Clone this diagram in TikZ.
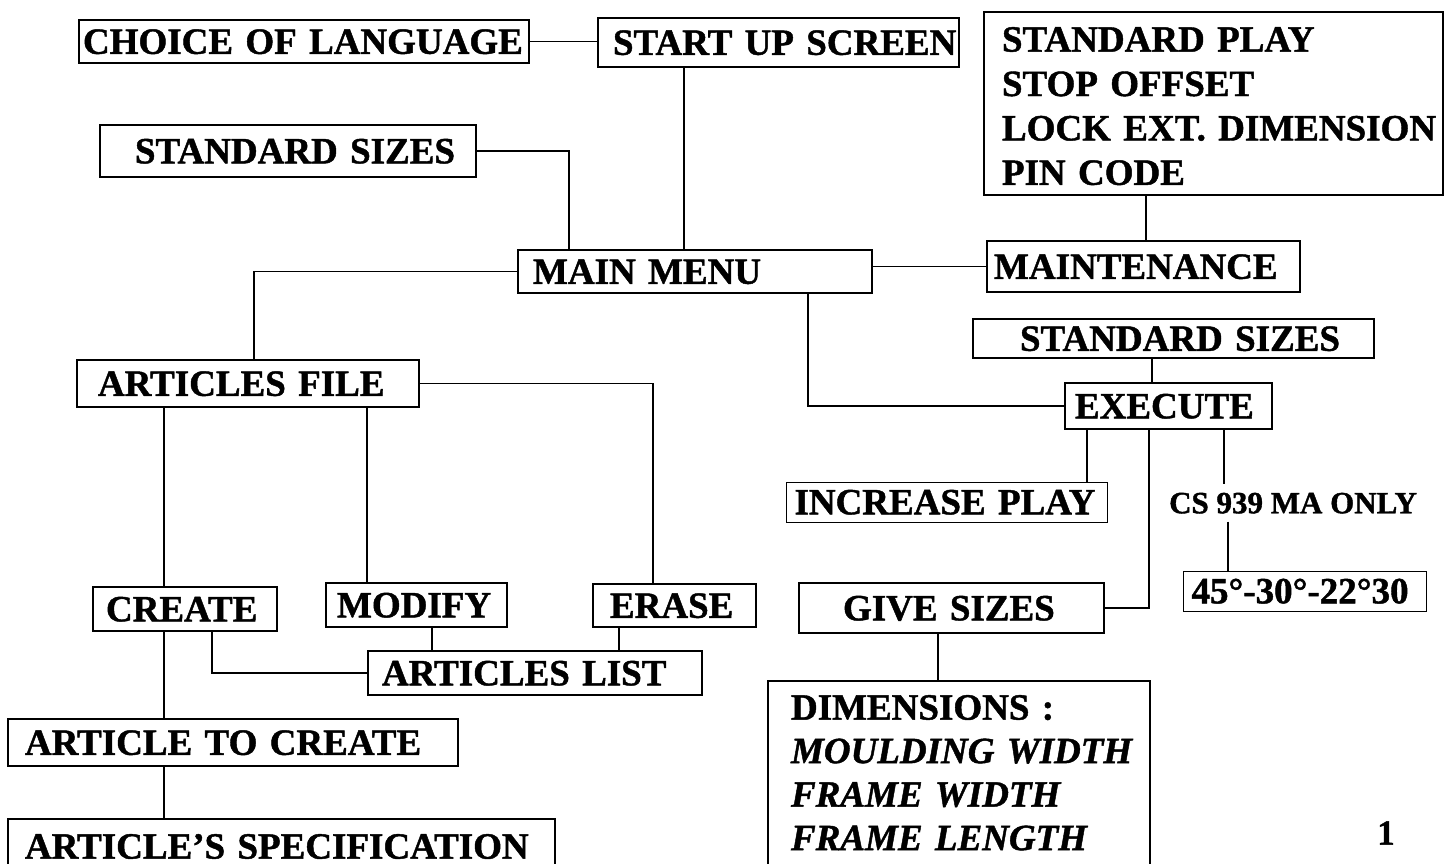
\documentclass[tikz,border=0pt]{standalone}
\usepackage{fontspec}
\setmainfont{Liberation Serif}[BoldFeatures={FakeBold=1.2}, BoldItalicFeatures={FakeBold=1.2}]

\begin{document}
\begin{tikzpicture}[x=0.5pt,y=-0.5pt,
  menubox/.style n args={3}{draw, line width=1pt, anchor=west, text width=#1, minimum height=#2,
    inner xsep=0pt, inner ysep=0pt, align=left, text height=12.3pt, text depth=0pt,
    font=\bfseries\fontsize{18.5}{22.2}\selectfont, execute at begin node={\leftskip=#3}},
  wire/.style={line width=0.75pt}]
  \useasboundingbox (0,0) rectangle (1450,863);
  \clip (0,0) rectangle (1450,863);

  \node[menubox={225pt}{21.5pt}{2pt}] (lang) at (78,41.5) {CHOICE OF LANGUAGE};
  \node[menubox={180.5pt}{24.5pt}{7.5pt}] (start) at (597,42.5) {START UP SCREEN};
  \node[menubox={188pt}{26pt}{17.5pt}] (stdl) at (99,151) {STANDARD SIZES};
  \node[menubox={177pt}{21.5pt}{7.5pt}] (main) at (517,271.5) {MAIN MENU};
  \node[menubox={156.5pt}{25.5pt}{3.5pt}] (maint) at (986,266.5) {MAINTENANCE};
  \node[menubox={229.5pt}{91.5pt}{9pt}, anchor=north west, inner ysep=7.5pt, text depth=64.2pt] (setup) at (983,11)
    {STANDARD PLAY\\STOP OFFSET\\LOCK EXT. DIMENSION\\PIN CODE};
  \node[menubox={200.5pt}{19.5pt}{23.5pt}] (stdr) at (972,338.5) {STANDARD SIZES};
  \node[menubox={103.5pt}{23pt}{5pt}] (exec) at (1064,406) {EXECUTE};
  \node[menubox={160.5pt}{20pt}{4pt}, line width=0.5pt] (incr) at (786,502) {INCREASE PLAY};
  \node[font=\bfseries\fontsize{15.5}{18}\selectfont, inner xsep=0pt, inner ysep=4pt, text height=10.3pt, text depth=0pt] (cs) at (1293,503) {CS 939 MA ONLY};
  \node[menubox={121.5pt}{20pt}{4pt}, line width=0.5pt] (angle) at (1183,591) {45°-30°-22°30};
  \node[menubox={152.5pt}{25pt}{22pt}] (give) at (798,608) {GIVE SIZES};
  \node[menubox={191pt}{0pt}{11.5pt}, anchor=north west, inner ysep=7pt, text depth=80pt,
    font=\bfseries\fontsize{18.5}{21.75}\selectfont] (dims) at (767,680)
    {DIMENSIONS :\\\textit{MOULDING WIDTH}\\\textit{FRAME WIDTH}\\\textit{FRAME LENGTH}};
  \node[menubox={171pt}{23.5pt}{10.5pt}] (afile) at (76,383.5) {ARTICLES FILE};
  \node[menubox={92pt}{22pt}{6.5pt}] (create) at (92,609) {CREATE};
  \node[menubox={90.5pt}{22pt}{5.5pt}] (modify) at (325,605) {MODIFY};
  \node[menubox={81.5pt}{21.5pt}{8.5pt}] (erase) at (592,605.5) {ERASE};
  \node[menubox={167pt}{22pt}{7pt}] (alist) at (367,673) {ARTICLES LIST};
  \node[menubox={225pt}{23.5pt}{8.5pt}] (atc) at (7,742.5) {ARTICLE TO CREATE};
  \node[menubox={273.5pt}{0pt}{8.5pt}, anchor=north west, inner ysep=7.5pt, text depth=40pt] (spec) at (7,818)
    {ARTICLE'S SPECIFICATION};
  \node[font=\bfseries\fontsize{17.5}{20}\selectfont] (pg) at (1386,833) {1};

  \draw[wire] (lang.east) -- (start.west |- lang.east);
  \draw[wire] (start.south -| 684,0) -- (main.north -| 684,0);
  \draw[wire] (stdl.east) -| (main.north -| 569,0);
  \draw[wire] (main.west) -| (afile.north -| 254,0);
  \draw[wire] (main.east |- maint.west) -- (maint.west);
  \draw[wire] (setup.south -| 1146,0) -- (maint.north -| 1146,0);
  \draw[wire] (main.south -| 808,0) |- (exec.west);
  \draw[wire] (stdr.south -| 1152,0) -- (exec.north -| 1152,0);
  \draw[wire] (exec.south -| 1087,0) -- (incr.north -| 1087,0);
  \draw[wire] (exec.south -| 1149,0) |- (give.east);
  \draw[wire] (exec.south -| 1224,0) -- (cs.north -| 1224,0);
  \draw[wire] (cs.south -| 1228,0) -- (angle.north -| 1228,0);
  \draw[wire] (give.south -| 938,0) -- (dims.north -| 938,0);
  \draw[wire] (afile.east) -| (erase.north -| 653,0);
  \draw[wire] (afile.south -| 164,0) -- (create.north -| 164,0);
  \draw[wire] (afile.south -| 367,0) -- (modify.north -| 367,0);
  \draw[wire] (modify.south -| 432,0) -- (alist.north -| 432,0);
  \draw[wire] (erase.south -| 619,0) -- (alist.north -| 619,0);
  \draw[wire] (create.south -| 212,0) |- (alist.west);
  \draw[wire] (create.south -| 164,0) -- (atc.north -| 164,0);
  \draw[wire] (atc.south -| 164,0) -- (spec.north -| 164,0);
\end{tikzpicture}
\end{document}
